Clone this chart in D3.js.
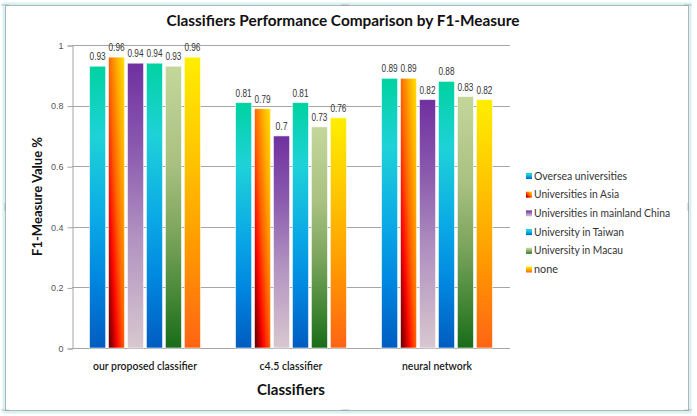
<!DOCTYPE html>
<html><head><meta charset="utf-8">
<script src="https://cdn.jsdelivr.net/npm/d3@7"></script>
<style>html,body{margin:0;padding:0;background:#fff;}svg{display:block;}</style>
</head><body>
<svg id="chart" width="697" height="416"></svg>
<script>
const categories = ["our proposed classifier", "c4.5 classifier", "neural network"];
const seriesNames = ["Oversea universities", "Universities in Asia", "Universities in mainland China", "University in Taiwan", "University in Macau", "none"];
const overseaValues = [0.93, 0.81, 0.89];
const asiaValues = [0.96, 0.79, 0.89];
const mainlandValues = [0.94, 0.70, 0.82];
const taiwanValues = [0.94, 0.81, 0.88];
const macauValues = [0.93, 0.73, 0.83];
const noneValues = [0.96, 0.76, 0.82];
const yTicks = [0, 0.2, 0.4, 0.6, 0.8, 1];
const yTickLabels = ["0", "0.2", "0.4", "0.6", "0.8", "1"];
const titleText = "Classifiers Performance Comparison by F1-Measure";
const xTitle = "Classifiers";
const yTitle = "F1-Measure Value %";

const seriesValues = [overseaValues, asiaValues, mainlandValues, taiwanValues, macauValues, noneValues];

const svg = d3.select("#chart");
const plot = {left: 72, right: 510, top: 45, bottom: 348};

// gradients
const defs = svg.append("defs");
const gradSpecs = [
  {dir: "v", stops: [[0, "#00d2a0"], [0.25, "#1ed2d8"], [0.55, "#0aa8e6"], [0.75, "#0088e0"], [1, "#005cc0"]]},
  {dir: "d", stops: [[0, "#5a0000"], [0.15, "#b00000"], [0.28, "#ff0800"], [0.5, "#ff6400"], [0.75, "#ffac00"], [1, "#ffe400"]]},
  {dir: "v", stops: [[0, "#7030a0"], [0.3, "#8a5aae"], [0.6, "#b090c0"], [1, "#d8c8cf"]]},
  {dir: "v", stops: [[0, "#00d2a0"], [0.25, "#1ed2d8"], [0.55, "#0aa8e6"], [0.75, "#0088e0"], [1, "#005cc0"]]},
  {dir: "v", stops: [[0, "#c4d79b"], [0.35, "#a8c080"], [0.6, "#7aa45c"], [0.8, "#4a8a3a"], [1, "#186c18"]]},
  {dir: "v", stops: [[0, "#ffee00"], [0.35, "#ffc400"], [0.65, "#ff9a00"], [1, "#ff6414"]]}
];
gradSpecs.forEach((g, i) => {
  const lg = defs.append("linearGradient").attr("id", "g" + i);
  if (g.dir === "v") lg.attr("x1", 0).attr("y1", 0).attr("x2", 0).attr("y2", 1);
  else lg.attr("x1", 0).attr("y1", 1).attr("x2", 1).attr("y2", 0);
  g.stops.forEach(s => lg.append("stop").attr("offset", s[0]).attr("stop-color", s[1]));
});

// frame
svg.append("rect").attr("x", 4).attr("y", 4).attr("width", 686).attr("height", 408)
  .attr("fill", "none").attr("stroke", "#d6f2f6").attr("stroke-width", 3);
svg.append("rect").attr("x", 5.5).attr("y", 5.5).attr("width", 683).attr("height", 405)
  .attr("fill", "#fff").attr("stroke", "#b4b4b4").attr("stroke-width", 1);
// resize handles
const handles = [[5, 5, "h"], [345, 5, "h"], [688, 5, "h"], [5, 410, "h"], [345, 410, "h"], [688, 410, "h"], [5, 207, "v"], [688, 207, "v"]];
handles.forEach(h => {
  for (let k = 0; k < 4; k++) {
    const dx = h[2] === "h" ? (k - 1.5) * 2 : 0;
    const dy = h[2] === "v" ? (k - 1.5) * 2 : 0;
    svg.append("rect").attr("x", h[0] + dx - 0.5).attr("y", h[1] + dy - 0.5).attr("width", 1).attr("height", 1).attr("fill", "#8a8a8a");
  }
});

const x0 = d3.scaleBand().domain(categories).range([plot.left, plot.right]).paddingInner(0.24).paddingOuter(0.12);
const x1 = d3.scaleBand().domain(seriesNames).range([0, x0.bandwidth()]).paddingInner(0.15).paddingOuter(0);
const y = d3.scaleLinear().domain([0, 1]).range([plot.bottom, plot.top]);

// gridlines
svg.append("g").selectAll("line").data(yTicks.filter(t => t > 0)).join("line")
  .attr("x1", plot.left).attr("x2", plot.right)
  .attr("y1", d => Math.round(y(d)) + 0.5).attr("y2", d => Math.round(y(d)) + 0.5)
  .attr("stroke", "#a6a6a6").attr("stroke-width", 1);

// y axis
const yAxis = d3.axisLeft(y).tickValues(yTicks).tickFormat((d, i) => yTickLabels[i]).tickSize(5).tickPadding(4);
const yg = svg.append("g").attr("transform", `translate(${plot.left + 0.5},0.5)`).call(yAxis);
yg.select(".domain").attr("stroke", "#a6a6a6");
yg.selectAll(".tick line").attr("stroke", "#a6a6a6");
yg.selectAll(".tick text").attr("fill", "#555").attr("font-family", "Liberation Sans, Arial, sans-serif").attr("font-size", 9);

// x axis
const xAxis = d3.axisBottom(x0).tickSize(0).tickPadding(14);
const xg = svg.append("g").attr("transform", `translate(0,${plot.bottom + 0.5})`).call(xAxis);
xg.select(".domain").attr("stroke", "#a6a6a6").attr("d", `M${plot.left},0H${plot.right}`);
const catWidths = [104, 63, 70];
xg.selectAll(".tick text").attr("fill", "#1a1a1a").attr("font-family", "Lato, sans-serif")
  .attr("font-size", 11).attr("font-weight", "600")
  .attr("textLength", (d, i) => catWidths[i]).attr("lengthAdjust", "spacingAndGlyphs");

// bars
const groups = svg.append("g").selectAll("g").data(categories).join("g")
  .attr("transform", d => `translate(${x0(d)},0)`);
groups.selectAll("rect").data((c, ci) => seriesNames.map((s, si) => ({s, si, v: seriesValues[si][ci]}))).join("rect")
  .attr("x", d => x1(d.s)).attr("width", x1.bandwidth())
  .attr("y", d => y(d.v)).attr("height", d => y(0) - y(d.v))
  .attr("fill", d => `url(#g${d.si})`)
  .attr("stroke", "#ffffff").attr("stroke-opacity", 0.6).attr("stroke-width", 1);
groups.selectAll("text").data((c, ci) => seriesNames.map((s, si) => ({s, si, v: seriesValues[si][ci]}))).join("text")
  .attr("x", d => x1(d.s) + x1.bandwidth() / 2).attr("y", d => y(d.v) - 6)
  .attr("text-anchor", "middle").attr("fill", "#333")
  .attr("font-family", "Liberation Sans, Arial, sans-serif").attr("font-size", 10)
  .text(d => String(d.v))
  .attr("textLength", d => String(d.v).length * 4)
  .attr("lengthAdjust", "spacingAndGlyphs");

// title
svg.append("text").attr("x", 343).attr("y", 26).attr("text-anchor", "middle")
  .attr("font-family", "Lato, sans-serif").attr("font-weight", "bold").attr("font-size", 16).attr("fill", "#111")
  .attr("textLength", 353).attr("lengthAdjust", "spacingAndGlyphs").text(titleText);
// x title
svg.append("text").attr("x", (plot.left + plot.right) / 2).attr("y", 395).attr("text-anchor", "middle")
  .attr("font-family", "Lato, sans-serif").attr("font-weight", "bold").attr("font-size", 16).attr("fill", "#111")
  .attr("textLength", 68).attr("lengthAdjust", "spacingAndGlyphs").text(xTitle);
// y title
svg.append("text").attr("transform", `translate(42,${(plot.top + plot.bottom) / 2}) rotate(-90)`).attr("text-anchor", "middle")
  .attr("font-family", "Lato, sans-serif").attr("font-weight", "bold").attr("font-size", 14).attr("fill", "#111")
  .attr("textLength", 119).attr("lengthAdjust", "spacingAndGlyphs").text(yTitle);

// legend
const legendWidths = [93, 85, 136, 90, 89, 24];
const lg = svg.append("g").attr("transform", "translate(526,176)");
const items = lg.selectAll("g").data(seriesNames).join("g").attr("transform", (d, i) => `translate(0,${i * 18.7})`);
items.append("rect").attr("x", 0).attr("y", -3).attr("width", 6).attr("height", 6).attr("fill", (d, i) => `url(#g${i})`);
items.append("text").attr("x", 8).attr("y", 3.5).attr("fill", "#333")
  .attr("font-family", "Lato, sans-serif").attr("font-size", 10.5)
  .attr("textLength", (d, i) => legendWidths[i]).attr("lengthAdjust", "spacingAndGlyphs").text(d => d);
</script>
</body></html>
